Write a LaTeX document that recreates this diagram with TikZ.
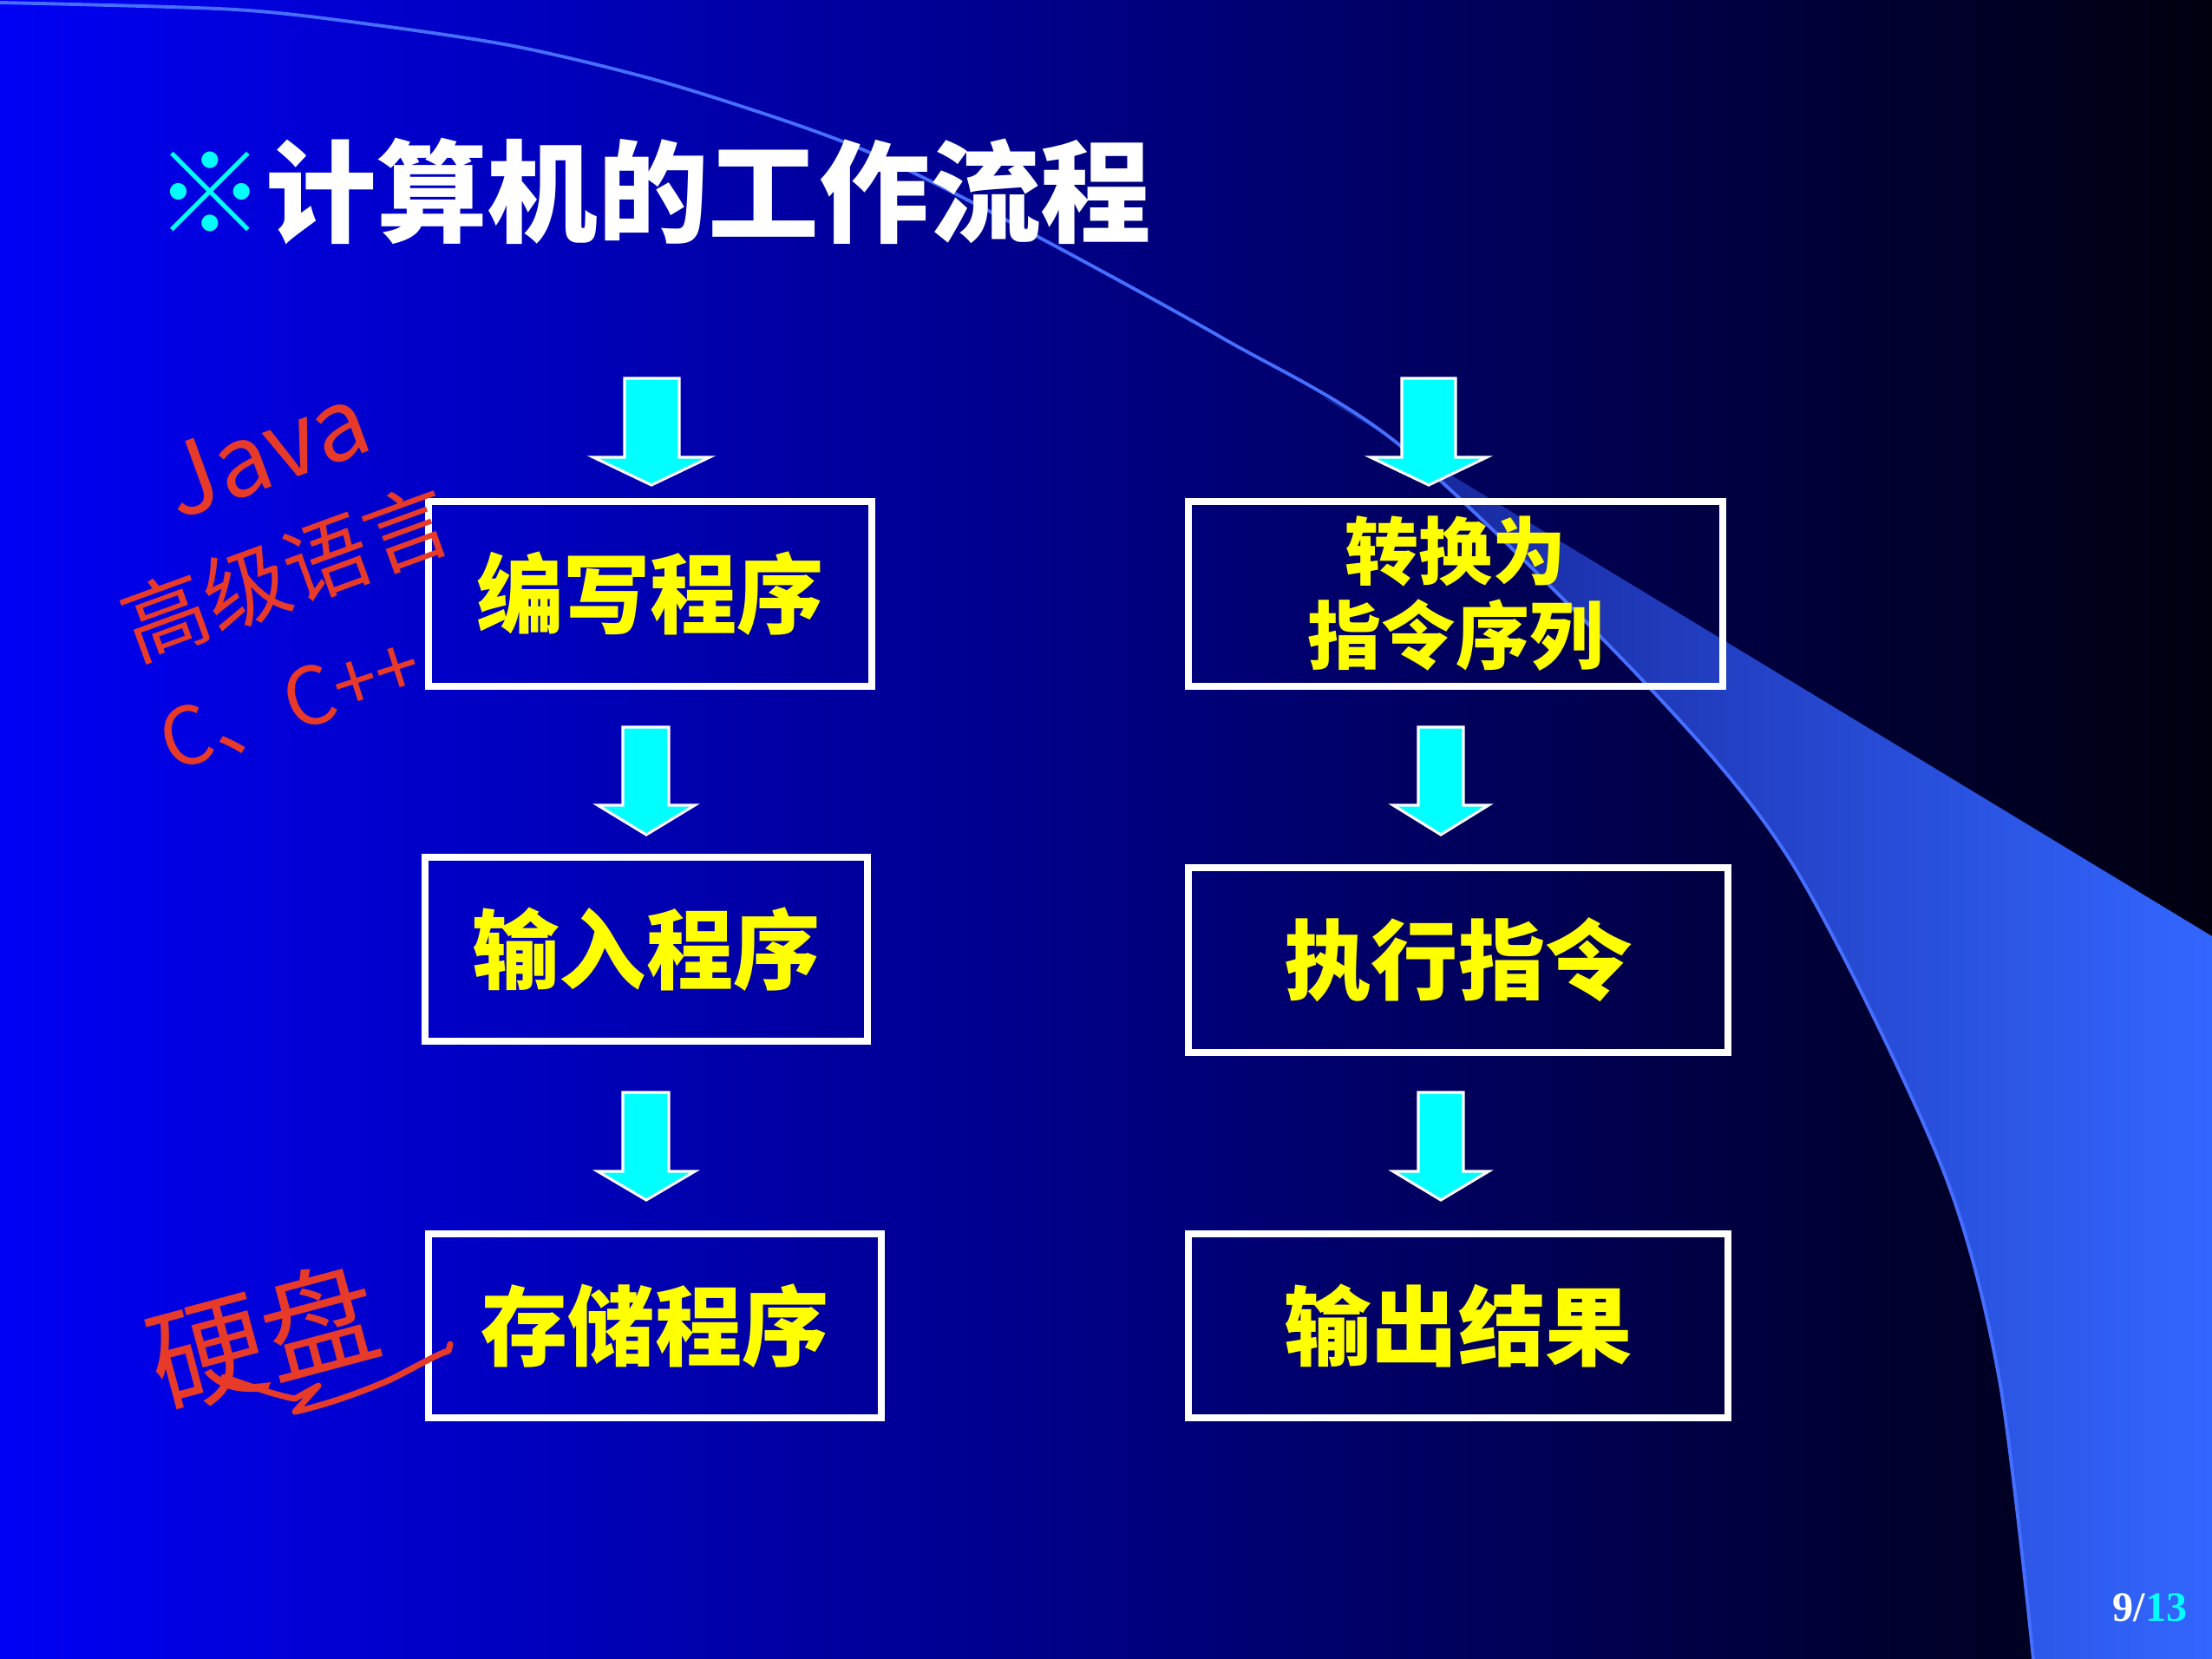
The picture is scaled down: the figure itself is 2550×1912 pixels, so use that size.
\documentclass[tikz,border=0pt]{standalone}
\usepackage{fontspec}
\newfontfamily\cjk{Noto Sans CJK SC}
\newfontfamily\pgnum{Liberation Serif}
\definecolor{bgL}{RGB}{0,0,245}
\definecolor{bgM}{RGB}{0,0,190}
\definecolor{bgR}{RGB}{0,0,15}
\definecolor{bandL}{RGB}{20,32,145}
\definecolor{bandM}{RGB}{44,86,225}
\definecolor{bandR}{RGB}{51,102,255}
\definecolor{swline}{RGB}{70,110,255}
\definecolor{handred}{RGB}{232,58,40}
\definecolor{aqua}{RGB}{0,255,255}
\definecolor{yel}{RGB}{255,255,0}
\newcommand{\blkarrow}[8]{\filldraw[downarrow] (#1,#3) -- (#2,#3) -- (#2,#4) -- (#6,#4) -- (#8,#7) -- (#5,#4) -- (#1,#4) -- cycle;}
\begin{document}
\begin{tikzpicture}[x=0.01cm,y=-0.01cm,
  flowbox/.style={draw=white, line width=2.3pt, inner sep=0pt, text=yel,
    font=\cjk\bfseries\fontsize{28.5}{32}\selectfont},
  downarrow/.style={fill=aqua, draw=white, line width=0.9pt, line join=miter},
  hand/.style={text=handred, inner sep=0pt},
  handline/.style={draw=handred, line width=2pt, line cap=round, line join=round}]
\useasboundingbox (0,0) rectangle (2550,1912);
% background
\shade[left color=bgL, middle color=bgM, right color=bgR] (0,0) rectangle (2550,1912);
% swoosh band
\shade[left color=bandL, middle color=bandM, right color=bandR]
  (1525,458) -- (2550,1079) -- (2550,1912) -- (2344,1912)
  -- plot[smooth] coordinates {(2344,1912) (2304,1585) (2237,1341) (2069,1000) (1902,793) (1616,515) (1525,458)} -- cycle;
% thin swoosh line
\draw[swline, line width=1.1pt] plot[smooth] coordinates {(0,3) (271,11) (434,29) (597,54) (759,93) (922,145) (1030,188) (1193,271) (1410,390) (1616,515) (1902,793) (2069,1000) (2237,1341) (2304,1585) (2344,1912)};
% title
\node[anchor=west, inner sep=0pt, text=white, font=\cjk\bfseries\fontsize{36.3}{40}\selectfont] (title) at (178,221) {\textcolor{aqua}{※}计算机的工作流程};
% boxes
\node[flowbox, minimum width=5.11cm, minimum height=2.13cm] (b1) at (749.5,684.5) {编写程序};
\node[flowbox, minimum width=5.10cm, minimum height=2.12cm] (b2) at (745,1094) {输入程序};
\node[flowbox, minimum width=5.22cm, minimum height=2.12cm] (b3) at (755,1528) {存储程序};
\node[flowbox, minimum width=6.16cm, minimum height=2.13cm, align=center,
  font=\cjk\bfseries\fontsize{24.2}{27.6}\selectfont] (b4) at (1678,684.5) {转换为\\指令序列};
\node[flowbox, minimum width=6.22cm, minimum height=2.13cm] (b5) at (1681,1106.5) {执行指令};
\node[flowbox, minimum width=6.22cm, minimum height=2.12cm] (b6) at (1681,1528) {输出结果};
% block arrows
\blkarrow{720}{783}{436}{527}{684}{818}{559}{751}
\blkarrow{718}{771}{838}{928}{689}{801}{962}{745}
\blkarrow{718}{771}{1259}{1350}{689}{801}{1383}{745}
\blkarrow{1616}{1678}{436}{527}{1580}{1714}{559}{1647}
\blkarrow{1635}{1687}{838}{928}{1606}{1716}{962}{1661}
\blkarrow{1635}{1687}{1259}{1350}{1606}{1716}{1383}{1661}
% handwritten notes
\node[hand, rotate=20, font=\cjk\fontsize{32}{36}\selectfont] (java) at (306,520) {Java};
\node[hand, rotate=20, font=\cjk\fontsize{28}{32}\selectfont] (gaoji) at (330,660) {高级语言};
\node[hand, rotate=18, font=\cjk\fontsize{26}{30}\selectfont] (cpp) at (335,812) {C、C++};
\node[hand, rotate=15, font=\cjk\fontsize{38}{42}\selectfont] (yingpan) at (303,1540) {硬盘};
\draw[handline] (258,1587) .. controls (290,1598) and (318,1608) .. (340,1612)
  -- (367,1597) -- (340,1627) .. controls (380,1618) and (420,1603) .. (450,1590)
  .. controls (480,1575) and (505,1560) .. (517,1557) -- (519,1549);
% page number
\node[anchor=base east, inner sep=0pt, text=white, font=\pgnum\bfseries\fontsize{13.7}{16}\selectfont] (pg) at (2522,1868) {9/\textcolor{aqua}{13}};
\end{tikzpicture}
\end{document}
